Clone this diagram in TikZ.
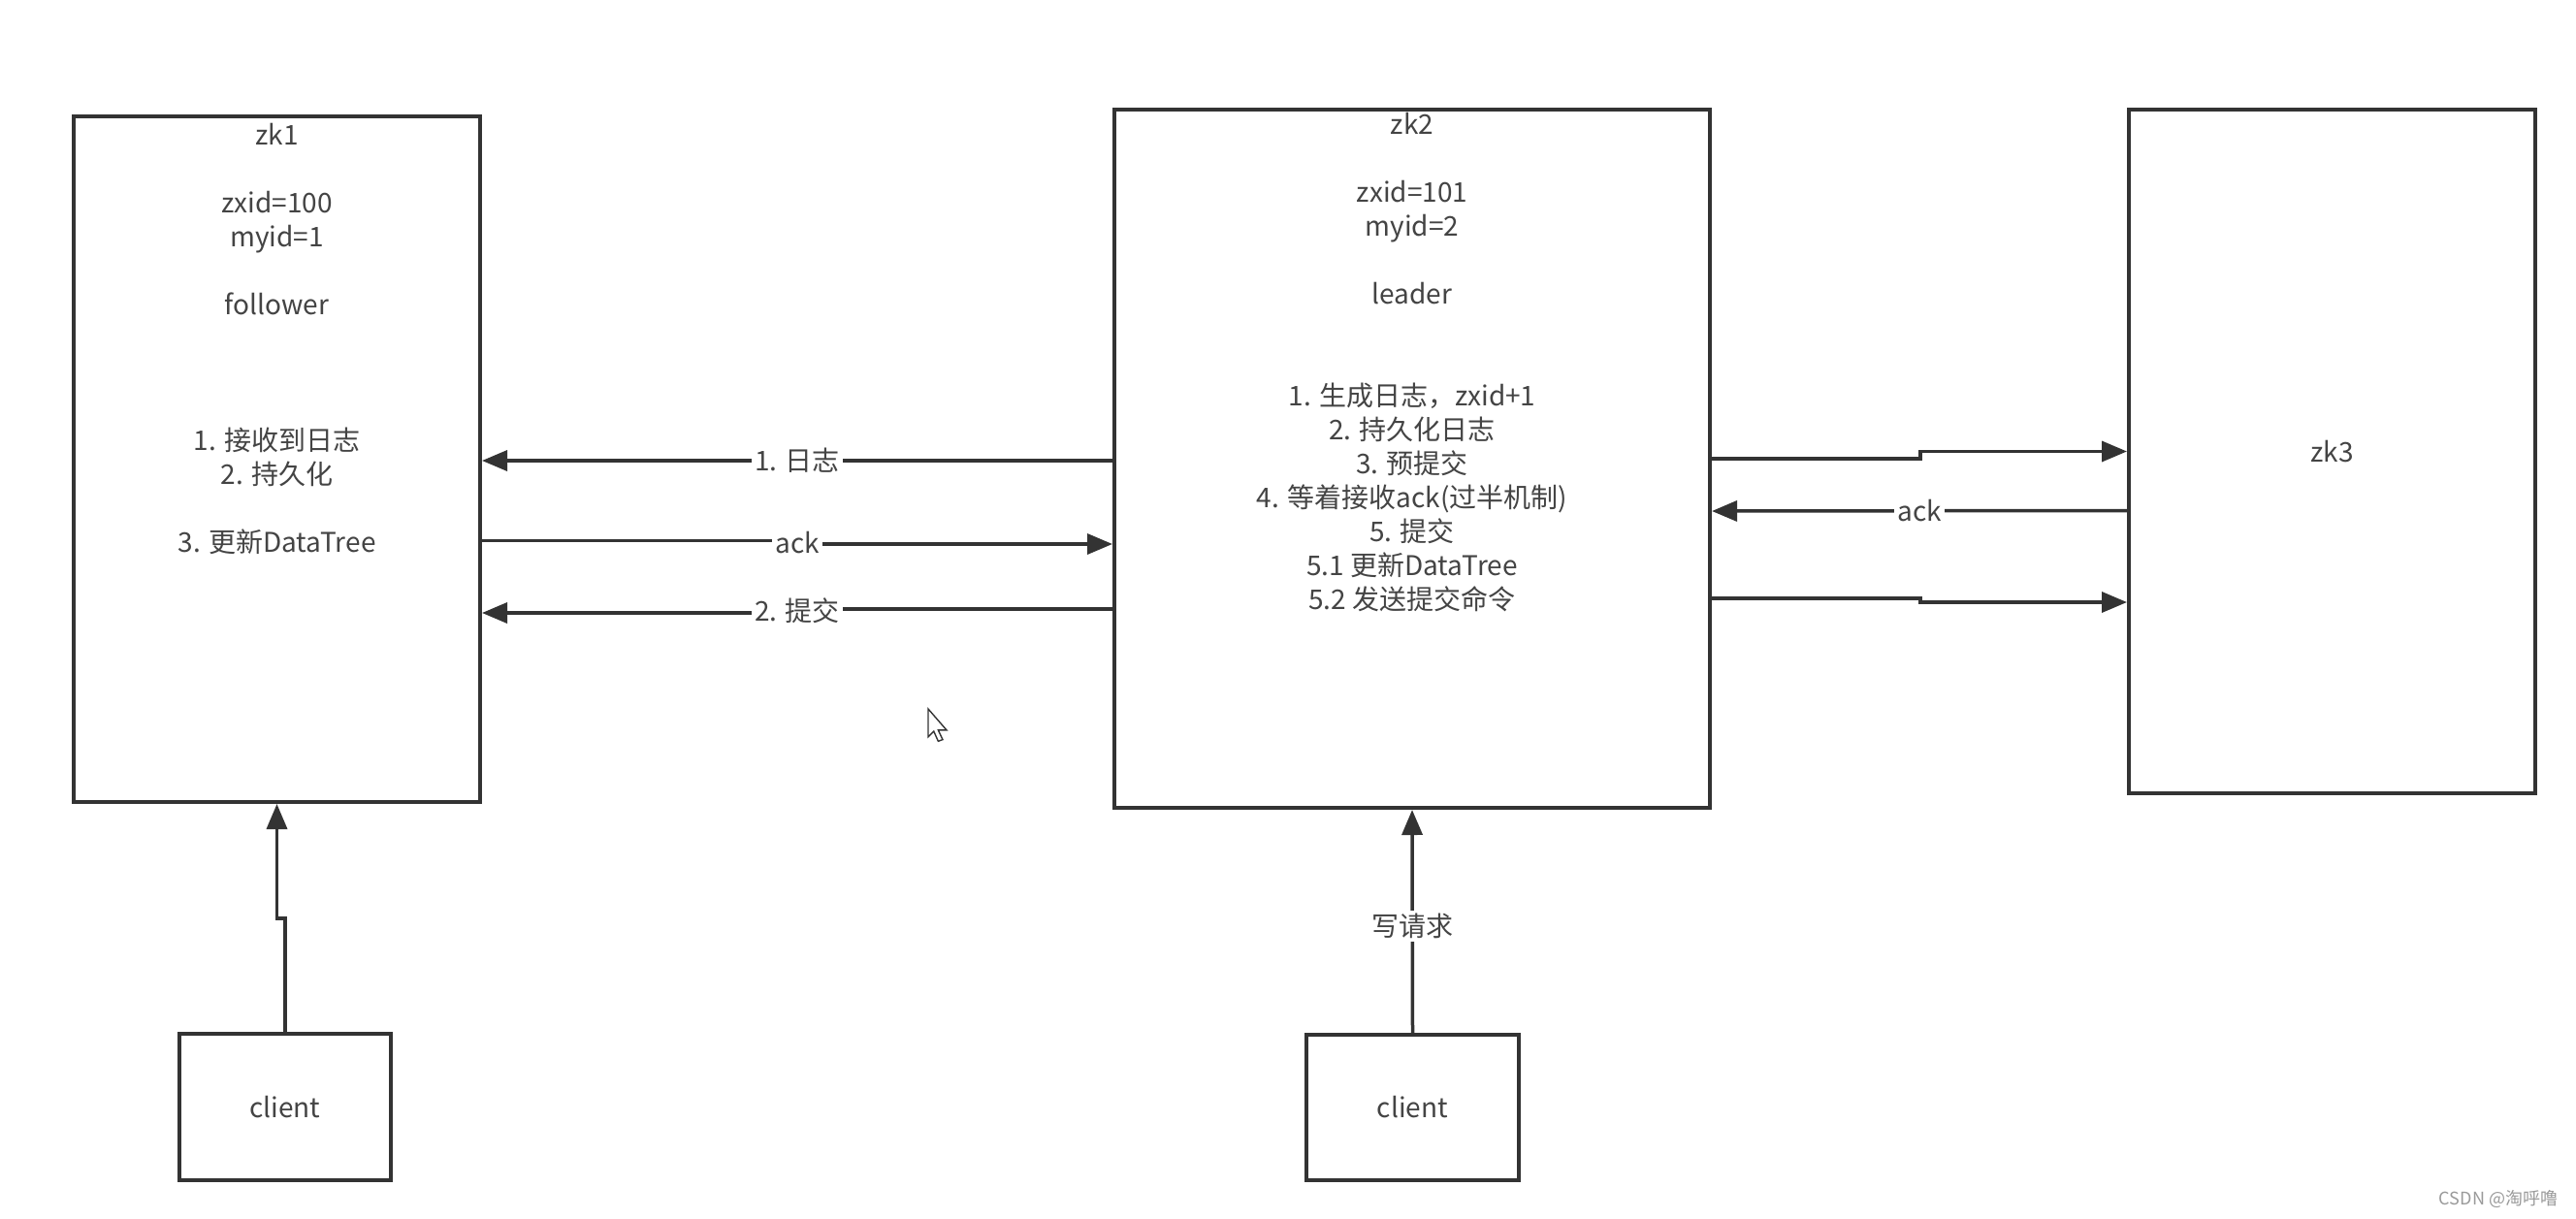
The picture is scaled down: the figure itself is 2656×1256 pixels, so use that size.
\documentclass[tikz,border=0pt]{standalone}
\usepackage{fontspec}
\setmainfont{Noto Sans CJK SC}
\usetikzlibrary{arrows.meta,calc}
\definecolor{linec}{HTML}{333333}
\definecolor{txtc}{HTML}{444444}
\definecolor{wmark}{HTML}{9A9A9A}
\begin{document}
\begin{tikzpicture}[x=1pt,y=-1pt,
  box/.style={draw=linec, line width=4pt, fill=white, inner sep=0pt,
              text=txtc, font=\fontsize{28}{35}\selectfont},
  txt/.style={text=txtc, font=\fontsize{28}{35}\selectfont, align=center, inner sep=0pt},
  conn/.style={draw=linec, line width=3.5pt, -{Triangle[length=26pt,width=21pt]}},
  lab/.style={fill=white, text=txtc, font=\fontsize{28}{35}\selectfont, inner sep=3pt},
]
\fill[white] (0,0) rectangle (2656,1256);
\useasboundingbox (0,0) rectangle (2656,1256);

% boxes
\node[box, minimum width=419pt, minimum height=707pt] (zk1) at (285.5,473.5) {};
\node[box, minimum width=614pt, minimum height=720pt] (zk2) at (1456,473) {};
\node[box, minimum width=419pt, minimum height=705pt] (zk3) at (2404.5,465.5) {zk3};
\node[box, minimum width=218pt, minimum height=151pt] (client1) at (294,1141.5) {client};
\node[box, minimum width=219pt, minimum height=150pt] (client2) at (1456.5,1142) {client};

% box texts
\node[txt, anchor=north] (zk1t) at ($(zk1.north)+(0,6.5)$)
  {\strut zk1\\[35pt] zxid=100\\ myid=1\\[35pt] follower\\[105pt] 1. 接收到日志\\ 2. 持久化\\[35pt] 3. 更新DataTree};
\node[txt, anchor=north] (zk2t) at ($(zk2.north)+(0,2.5)$)
  {\strut zk2\\[35pt] zxid=101\\ myid=2\\[35pt] leader\\[70pt] 1. 生成日志，zxid+1\\ 2. 持久化日志\\ 3. 预提交\\ 4. 等着接收ack(过半机制)\\ 5. 提交\\ 5.1 更新DataTree\\ 5.2 发送提交命令};

% zk1 <-> zk2
\draw[conn] ($(zk2.west)+(0,2)$) -- node[lab]{1. 日志} ($(zk1.east)+(0,1.5)$);
\draw[conn] ($(zk1.east)+(0,84)$) -- (822,557.5) -- node[lab]{ack} (822,561) -- ($(zk2.west)+(0,88)$);
\draw[conn] ($(zk2.west)+(0,155)$) -- (822,628) -- node[lab]{2. 提交} (822,632) -- ($(zk1.east)+(0,158.5)$);

% zk2 <-> zk3
\draw[conn] (zk2.east) -- (1980,473) -- (1980,465.5) -- (zk3.west);
\draw[conn] ($(zk3.west)+(0,61)$) -- node[lab]{ack} ($(zk2.east)+(0,54)$);
\draw[conn] ($(zk2.east)+(0,144)$) -- (1980,617) -- (1980,621) -- ($(zk3.west)+(0,155.5)$);

% clients
\draw[conn] (client1.north) |- ($(zk1.south)+(0,118)$) -- (zk1.south);
\draw[conn] (client2.north) -- node[lab, pos=0.48]{写请求} (zk2.south);

% mouse cursor
\begin{scope}[shift={(957,731)}, scale=1.15]
\draw[draw=linec, fill=white, line width=1.4pt, line join=miter]
  (0,0) -- (0,25) -- (5,20) -- (9,29) -- (13,27.5) -- (9,19) -- (16.5,19) -- cycle;
\end{scope}

% watermark
\node[text=wmark, font=\fontsize{18}{20}\selectfont, inner sep=0pt] (wm) at (2576,1236) {CSDN @淘呼噜};
\end{tikzpicture}
\end{document}
